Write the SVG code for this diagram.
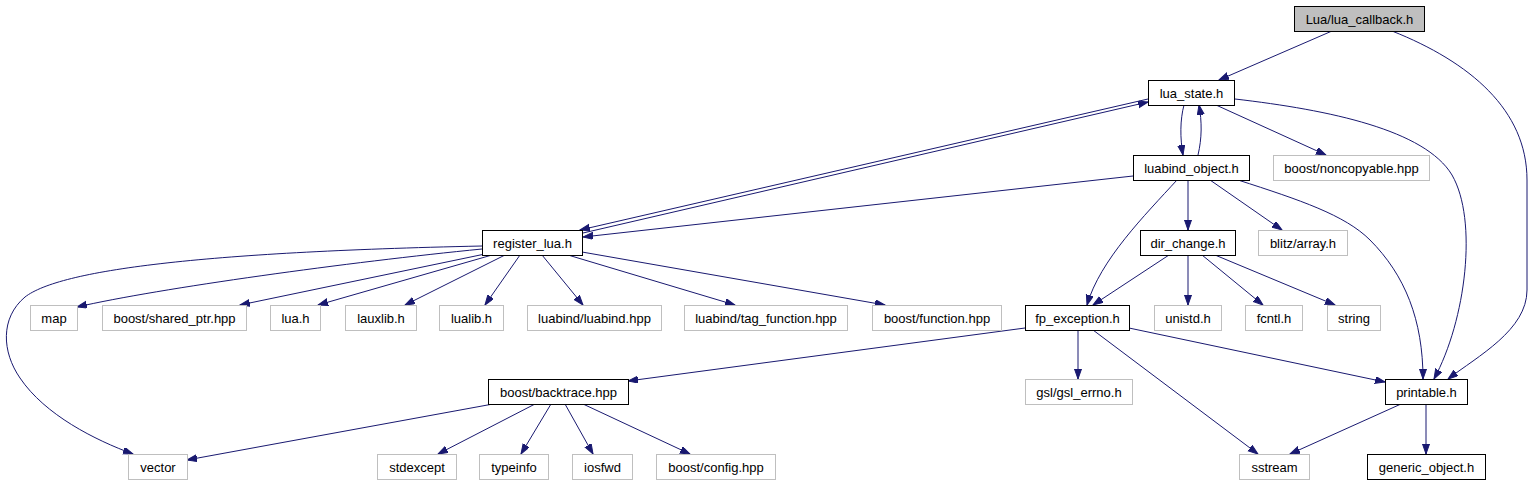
<svg xmlns="http://www.w3.org/2000/svg" width="1533" height="485" viewBox="0 0 1533 485">
<defs>
<marker id="ah" markerUnits="userSpaceOnUse" markerWidth="11" markerHeight="8" refX="10" refY="3.5" orient="auto">
<path d="M0,0 L10,3.5 L0,7 z" fill="#191970" stroke="#191970" stroke-width="1"/>
</marker>
<style>
.e{fill:none;stroke:#191970;stroke-width:1;marker-end:url(#ah)}
.n rect{fill:#fff;stroke:#000;stroke-width:1}
.g rect{fill:#fff;stroke:#bfbfbf;stroke-width:1}
.r rect{fill:#bfbfbf;stroke:#000;stroke-width:1}
text{font-family:"Liberation Sans",Arial,sans-serif;font-size:13px;text-anchor:middle;fill:#000}
</style>
</defs>
<rect width="1533" height="485" fill="#fff"/>
<g id="connectors">
<path class="e" d="M1332,31 L1219,80"/>
<path class="e" d="M1392,31 C1470,62 1527,110 1527,180 L1527,290 C1527,330 1478,356 1448,379"/>
<path class="e" d="M1184,105 C1180,120 1180,138 1183,155"/>
<path class="e" d="M1198,155 C1202,138 1202,122 1199,105"/>
<path class="e" d="M1216,105 L1326,155"/>
<path class="e" d="M1148,99 L580,230"/>
<path class="e" d="M583,233 L1148,102"/>
<path class="e" d="M1133,176 L583,237"/>
<path class="e" d="M1188,180 L1188,230"/>
<path class="e" d="M1210,180 L1282,230"/>
<path class="e" d="M1177,180 C1145,215 1100,260 1087,305"/>
<path class="e" d="M1238,180 C1300,200 1345,215 1370,240 C1405,275 1423,320 1423,379"/>
<path class="e" d="M1235,99 C1330,110 1425,130 1452,175 C1478,220 1466,320 1434,379"/>
<path class="e" d="M1169,255 L1093,305"/>
<path class="e" d="M1188,255 L1188,305"/>
<path class="e" d="M1202,255 L1263,305"/>
<path class="e" d="M1215,255 L1335,305"/>
<path class="e" d="M1025,328 L628,381"/>
<path class="e" d="M1078,330 L1078,379"/>
<path class="e" d="M1093,330 L1258,454"/>
<path class="e" d="M1129,328 L1385,382"/>
<path class="e" d="M1401,404 L1290,454"/>
<path class="e" d="M1426,404 L1426,454"/>
<path class="e" d="M493,404 L187,460"/>
<path class="e" d="M535,404 L438,454"/>
<path class="e" d="M551,404 L521,454"/>
<path class="e" d="M565,404 L593,454"/>
<path class="e" d="M583,404 L690,454"/>
<path class="e" d="M482,246 C200,252 60,270 25,297 C0,318 2,352 20,378 C45,415 95,440 133,454"/>
<path class="e" d="M482,249 C350,262 160,288 77,307"/>
<path class="e" d="M485,254 L240,305"/>
<path class="e" d="M492,255 L318,305"/>
<path class="e" d="M505,255 L405,305"/>
<path class="e" d="M520,255 L485,305"/>
<path class="e" d="M542,255 L583,305"/>
<path class="e" d="M568,255 L735,305"/>
<path class="e" d="M582,252 L885,305"/>
</g>
<g id="lua_callback" class="r"><rect x="1294.5" y="6.5" width="130" height="25"/><text x="1359.5" y="23.5">Lua/lua_callback.h</text></g>
<g id="lua_state" class="n"><rect x="1148.5" y="80.5" width="86" height="25"/><text x="1191.5" y="97.5">lua_state.h</text></g>
<g id="luabind_object" class="n"><rect x="1133.5" y="155.5" width="116" height="25"/><text x="1191.5" y="172.5">luabind_object.h</text></g>
<g id="noncopyable" class="g"><rect x="1273.5" y="155.5" width="156" height="25"/><text x="1351.5" y="172.5">boost/noncopyable.hpp</text></g>
<g id="register_lua" class="n"><rect x="482.5" y="230.5" width="100" height="25"/><text x="532.5" y="247.5">register_lua.h</text></g>
<g id="dir_change" class="n"><rect x="1140.5" y="230.5" width="95" height="25"/><text x="1188" y="247.5">dir_change.h</text></g>
<g id="blitz_array" class="g"><rect x="1258.5" y="230.5" width="89" height="25"/><text x="1303" y="247.5">blitz/array.h</text></g>
<g id="map" class="g"><rect x="30.5" y="305.5" width="47" height="25"/><text x="54" y="322.5">map</text></g>
<g id="shared_ptr" class="g"><rect x="102.5" y="305.5" width="144" height="25"/><text x="174.5" y="322.5">boost/shared_ptr.hpp</text></g>
<g id="lua_h" class="g"><rect x="270.5" y="305.5" width="50" height="25"/><text x="295.5" y="322.5">lua.h</text></g>
<g id="lauxlib" class="g"><rect x="345.5" y="305.5" width="71" height="25"/><text x="381" y="322.5">lauxlib.h</text></g>
<g id="lualib" class="g"><rect x="439.5" y="305.5" width="64" height="25"/><text x="471.5" y="322.5">lualib.h</text></g>
<g id="luabind_hpp" class="g"><rect x="527.5" y="305.5" width="134" height="25"/><text x="594.5" y="322.5">luabind/luabind.hpp</text></g>
<g id="tag_function" class="g"><rect x="684.5" y="305.5" width="163" height="25"/><text x="766" y="322.5">luabind/tag_function.hpp</text></g>
<g id="boost_function" class="g"><rect x="872.5" y="305.5" width="129" height="25"/><text x="937" y="322.5">boost/function.hpp</text></g>
<g id="fp_exception" class="n"><rect x="1025.5" y="305.5" width="104" height="25"/><text x="1077.5" y="322.5">fp_exception.h</text></g>
<g id="unistd" class="g"><rect x="1154.5" y="305.5" width="67" height="25"/><text x="1188" y="322.5">unistd.h</text></g>
<g id="fcntl" class="g"><rect x="1245.5" y="305.5" width="57" height="25"/><text x="1274" y="322.5">fcntl.h</text></g>
<g id="string" class="g"><rect x="1327.5" y="305.5" width="53" height="25"/><text x="1354" y="322.5">string</text></g>
<g id="backtrace" class="n"><rect x="488.5" y="379.5" width="140" height="25"/><text x="558.5" y="396.5">boost/backtrace.hpp</text></g>
<g id="gsl_errno" class="g"><rect x="1025.5" y="379.5" width="107" height="25"/><text x="1079" y="396.5">gsl/gsl_errno.h</text></g>
<g id="printable" class="n"><rect x="1385.5" y="379.5" width="82" height="25"/><text x="1426.5" y="396.5">printable.h</text></g>
<g id="vector" class="g"><rect x="128.5" y="454.5" width="59" height="25"/><text x="158" y="471.5">vector</text></g>
<g id="stdexcept" class="g"><rect x="377.5" y="454.5" width="79" height="25"/><text x="417" y="471.5">stdexcept</text></g>
<g id="typeinfo" class="g"><rect x="479.5" y="454.5" width="69" height="25"/><text x="514" y="471.5">typeinfo</text></g>
<g id="iosfwd" class="g"><rect x="572.5" y="454.5" width="60" height="25"/><text x="602.5" y="471.5">iosfwd</text></g>
<g id="boost_config" class="g"><rect x="656.5" y="454.5" width="119" height="25"/><text x="716" y="471.5">boost/config.hpp</text></g>
<g id="sstream" class="g"><rect x="1239.5" y="454.5" width="70" height="25"/><text x="1274.5" y="471.5">sstream</text></g>
<g id="generic_object" class="n"><rect x="1367.5" y="454.5" width="118" height="25"/><text x="1426.5" y="471.5">generic_object.h</text></g>
</svg>
